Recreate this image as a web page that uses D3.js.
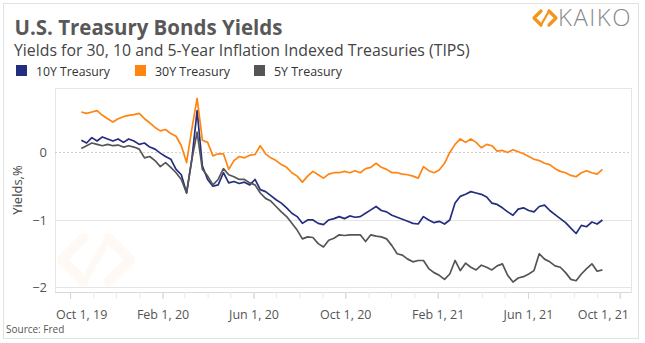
<!DOCTYPE html>
<html><head><meta charset="utf-8">
<script src="https://cdn.jsdelivr.net/npm/d3@7"></script>
<style>body{margin:0;background:#fff}svg{display:block}</style>
</head><body>
<svg id="c" width="645" height="343"></svg>
<script>
// ---- data ----
const startDate = new Date(2019, 9, 16);
const endDate = new Date(2021, 8, 12);
const dates = d3.timeDay.range(startDate, endDate, 7); // weekly observations
const y10 = [0.18,0.14,0.22,0.17,0.23,0.2,0.17,0.2,0.15,0.2,
  0.17,0.12,0.14,0.08,0.05,-0.01,-0.06,-0.1,-0.25,-0.33,
  -0.6,-0.1,0.62,-0.2,-0.4,-0.5,-0.48,-0.3,-0.45,-0.43,
  -0.46,-0.44,-0.48,-0.4,-0.55,-0.58,-0.64,-0.7,-0.75,-0.82,
  -0.9,-0.95,-1.05,-1.0,-1.0,-1.05,-1.07,-1.0,-0.98,-0.95,
  -0.98,-0.94,-0.96,-0.95,-0.9,-0.85,-0.8,-0.86,-0.88,-0.93,
  -0.96,-0.99,-1.02,-1.05,-1.06,-0.95,-1.0,-1.04,-1.02,-1.06,
  -1.0,-0.75,-0.65,-0.62,-0.58,-0.6,-0.62,-0.66,-0.75,-0.77,
  -0.82,-0.88,-0.93,-0.84,-0.82,-0.86,-0.88,-0.8,-0.78,-0.86,
  -0.92,-0.98,-1.04,-1.12,-1.2,-1.08,-1.1,-1.03,-1.06,-1.0];
const y30 = [0.6,0.58,0.6,0.62,0.55,0.5,0.45,0.5,0.53,0.55,
  0.56,0.58,0.5,0.44,0.37,0.32,0.34,0.28,0.24,0.1,
  -0.15,0.35,0.8,0.18,0.15,-0.05,-0.02,-0.02,-0.25,-0.12,
  -0.06,-0.08,-0.04,-0.03,0.1,-0.02,-0.08,-0.12,-0.18,-0.22,
  -0.3,-0.35,-0.44,-0.35,-0.28,-0.33,-0.38,-0.32,-0.3,-0.3,
  -0.28,-0.3,-0.27,-0.3,-0.24,-0.22,-0.16,-0.22,-0.25,-0.3,
  -0.3,-0.32,-0.33,-0.35,-0.38,-0.21,-0.27,-0.3,-0.26,-0.16,
  0.0,0.12,0.2,0.15,0.2,0.15,0.07,0.12,0.1,0.02,
  0.03,0.0,0.04,0.01,-0.02,-0.06,-0.1,-0.12,-0.16,-0.18,
  -0.24,-0.28,-0.3,-0.34,-0.36,-0.3,-0.27,-0.3,-0.32,-0.25];
const y5 = [0.06,0.1,0.14,0.12,0.1,0.12,0.1,0.11,0.08,0.1,
  0.08,0.05,-0.08,-0.06,-0.12,-0.21,-0.15,-0.22,-0.3,-0.4,
  -0.6,-0.1,0.3,-0.25,-0.35,-0.48,-0.4,-0.24,-0.33,-0.36,
  -0.4,-0.4,-0.45,-0.48,-0.6,-0.68,-0.72,-0.8,-0.88,-0.95,
  -1.05,-1.15,-1.28,-1.25,-1.26,-1.35,-1.4,-1.3,-1.27,-1.22,
  -1.23,-1.22,-1.22,-1.22,-1.32,-1.22,-1.24,-1.25,-1.28,-1.38,
  -1.5,-1.52,-1.58,-1.62,-1.6,-1.6,-1.72,-1.78,-1.82,-1.88,
  -1.8,-1.6,-1.75,-1.64,-1.7,-1.74,-1.67,-1.7,-1.74,-1.68,
  -1.65,-1.82,-1.92,-1.86,-1.84,-1.8,-1.75,-1.5,-1.58,-1.62,
  -1.68,-1.7,-1.78,-1.88,-1.9,-1.8,-1.72,-1.65,-1.76,-1.74];
const seriesNames = ["10Y Treasury", "30Y Treasury", "5Y Treasury"];
const seriesValues = [y10, y30, y5];
const seriesColors = ["#232e7e", "#ff8410", "#555555"];
const yTicks = [0, -1, -2];
const xTickDates = [new Date(2019,9,1), new Date(2020,1,1), new Date(2020,5,1),
  new Date(2020,9,1), new Date(2021,1,1), new Date(2021,5,1), new Date(2021,9,1)];
const titleText = "U.S. Treasury Bonds Yields";
const subtitleText = "Yields for 30, 10 and 5-Year Inflation Indexed Treasuries (TIPS)";

// ---- drawing ----
const svg = d3.select("#c");
const FONT = "'Open Sans', 'Liberation Sans', sans-serif";
const L = 55, R = 631, T = 88, B = 292;

function fit(sel, w) {
  const cur = sel.node().getComputedTextLength();
  const fs = parseFloat(sel.attr("font-size"));
  sel.attr("font-size", fs * w / cur);
  return sel;
}

// outer frame
svg.append("rect").attr("x", 3.5).attr("y", 3.5).attr("width", 635).attr("height", 335)
  .attr("fill", "#fff").attr("stroke", "#e2e2e2");

// title & subtitle
fit(svg.append("text").attr("x", 14.5).attr("y", 35).attr("font-family", FONT)
  .attr("font-weight", "bold").attr("font-size", 22).attr("fill", "#585858").text(titleText), 268);
fit(svg.append("text").attr("x", 14).attr("y", 56).attr("font-family", FONT)
  .attr("font-size", 15).attr("fill", "#444").text(subtitleText), 456);

// logo
function logo(g, x, y, s, col, op) {
  const grp = g.append("g").attr("transform", `translate(${x},${y}) scale(${s})`).attr("opacity", op);
  grp.append("path").attr("d", "M7,0 L0,7 L7,14").attr("fill", "none").attr("stroke", col)
    .attr("stroke-width", 3.2).attr("stroke-linecap", "round").attr("stroke-linejoin", "round");
  grp.append("path").attr("d", "M15,0 L22,7 L15,14").attr("fill", "none").attr("stroke", col)
    .attr("stroke-width", 3.2).attr("stroke-linecap", "round").attr("stroke-linejoin", "round");
  grp.append("path").attr("d", "M7,14 L15,0").attr("fill", "none").attr("stroke", col)
    .attr("stroke-width", 2.2).attr("stroke-linecap", "round");
}
logo(svg, 534, 11, 1, "#f7931a", 1);
fit(svg.append("text").attr("x", 558).attr("y", 26).attr("font-family", FONT)
  .attr("font-weight", 300).attr("font-size", 19).attr("letter-spacing", 1.5)
  .attr("fill", "#8a8a8a").text("KAIKO"), 76);

// legend
const leg = svg.append("g");
const legX = [16, 135, 254];
const legW = [74, 75, 68];
seriesNames.forEach((n, i) => {
  leg.append("rect").attr("x", legX[i]).attr("y", 65).attr("width", 11).attr("height", 11)
    .attr("fill", seriesColors[i]);
  fit(leg.append("text").attr("x", legX[i] + 20).attr("y", 75.5).attr("font-family", FONT)
    .attr("font-size", 12.5).attr("fill", "#333").text(n), legW[i]);
});

// scales
const x = d3.scaleTime().domain([new Date(2019,8,11), new Date(2021,9,16)]).range([L, R]);
const y = d3.scaleLinear().domain([-2.067, 0.955]).range([B, T]);

// plot frame
svg.append("rect").attr("x", L + 0.5).attr("y", T + 0.5).attr("width", R - L).attr("height", B - T)
  .attr("fill", "#fff").attr("stroke", "#e6e6e6");

// watermark
logo(svg, 62, 238, 3.1, "#f7931a", 0.045);

// gridlines
yTicks.forEach(v => {
  svg.append("line").attr("x1", L).attr("x2", R).attr("y1", Math.round(y(v)) + 0.5).attr("y2", Math.round(y(v)) + 0.5)
    .attr("stroke", v === 0 ? "#d0d0d0" : "#e4e4e4").attr("stroke-width", 1)
    .attr("stroke-dasharray", v === 0 ? "2,2" : null);
});

// y axis
const yAxis = svg.append("g").attr("transform", `translate(${L - 8},0)`)
  .call(d3.axisLeft(y).tickValues(yTicks).tickSize(0).tickPadding(0).tickFormat(d3.format("d")));
yAxis.select(".domain").remove();
yAxis.selectAll("text").attr("font-family", FONT).attr("font-size", 13).attr("fill", "#555")
  .text(d => d < 0 ? "\u2212" + Math.abs(d) : d);

svg.append("text").attr("transform", "translate(22,190) rotate(-90)").attr("text-anchor", "middle")
  .attr("font-family", FONT).attr("font-size", 13).attr("fill", "#444").text("Yields,%");

// x axis
svg.append("line").attr("x1", L).attr("x2", R).attr("y1", B + 0.5).attr("y2", B + 0.5).attr("stroke", "#d8d8d8");
const minor = d3.timeMonth.range(new Date(2019,8,15), new Date(2021,9,16));
const xMinor = svg.append("g").attr("transform", `translate(0,${B})`)
  .call(d3.axisBottom(x).tickValues(minor).tickSize(6).tickFormat(""));
xMinor.select(".domain").remove();
xMinor.selectAll("line").attr("stroke", "#e8e8e8");
const xAxis = svg.append("g").attr("transform", `translate(0,${B})`)
  .call(d3.axisBottom(x).tickValues(xTickDates).tickSize(7).tickPadding(11).tickFormat(d3.timeFormat("%b %-d, %y")));
xAxis.select(".domain").remove();
xAxis.selectAll("line").attr("stroke", "#d4d4d4");
xAxis.selectAll("text").attr("font-family", FONT).attr("font-size", 12.5).attr("fill", "#555");
xAxis.selectAll(".tick").each(function() {
  const t = d3.select(this).select("text");
  const bb = t.node().getBBox();
  const tr = d3.select(this).attr("transform").match(/translate\(([-\d.]+)/);
  const tx = +tr[1];
  const left = tx + bb.x, right = tx + bb.x + bb.width;
  if (left < L + 1) t.attr("dx", (L + 1 - left) + "px");
  if (right > R - 2) t.attr("dx", (R - 2 - right) + "px");
});

// lines
const line = d3.line().x((d, i) => x(dates[i])).y(d => y(d));
seriesValues.forEach((vals, i) => {
  svg.append("path").datum(vals).attr("d", line).attr("fill", "none")
    .attr("stroke", seriesColors[i]).attr("stroke-width", 1.7).attr("stroke-linejoin", "round");
});

// source
svg.append("text").attr("x", 6).attr("y", 333).attr("font-family", FONT).attr("font-size", 10)
  .attr("fill", "#555").text("Source: Fred");
</script>
</body></html>
